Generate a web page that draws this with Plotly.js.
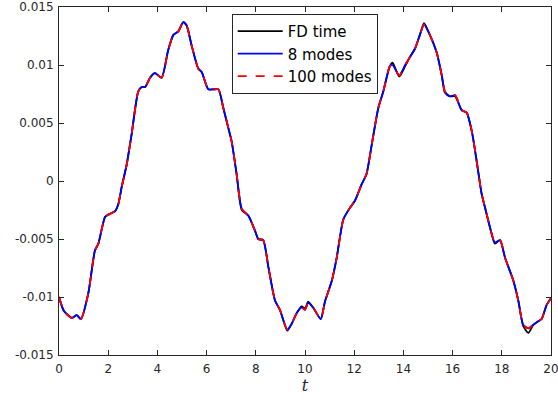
<!DOCTYPE html>
<html>
<head>
<meta charset="utf-8">
<script src="https://cdn.plot.ly/plotly-3.0.1.min.js"></script>
<style>html,body{margin:0;padding:0;background:#fff;}#plot{width:558px;height:403px;}</style>
</head>
<body>
<div id="plot"></div>
<script>
const t = [0, 0.2, 0.52, 0.72, 0.89, 1.19, 1.46, 1.6, 1.87, 2.0, 2.28, 2.41, 2.55, 2.75, 2.95, 3.22, 3.36, 3.5, 3.7, 3.9, 4.17, 4.44, 4.65, 4.85, 5.05, 5.19, 5.39, 5.66, 5.8, 6.07, 6.27, 6.48, 6.68, 6.88, 7.02, 7.22, 7.43, 7.7, 7.97, 8.1, 8.3, 8.51, 8.78, 8.98, 9.28, 9.46, 9.66, 9.86, 10.0, 10.13, 10.36, 10.64, 10.81, 11.09, 11.29, 11.56, 11.83, 12.03, 12.3, 12.5, 12.71, 12.98, 13.18, 13.45, 13.56, 13.83, 14.07, 14.27, 14.47, 14.67, 14.84, 15.01, 15.35, 15.56, 15.69, 15.89, 16.1, 16.37, 16.57, 16.78, 16.98, 17.18, 17.32, 17.52, 17.72, 17.93, 18.13, 18.47, 18.67, 18.87, 19.08, 19.28, 19.48, 19.62, 19.82, 20.0];

const fdTime = [-0.0100, -0.0112, -0.0118, -0.01157, -0.0119, -0.0097, -0.0060, -0.0054, -0.0031, -0.0029, -0.0026, -0.0020, -0.0005, 0.0014, 0.0040, 0.0077, 0.0081, 0.0081, 0.0089, 0.0093, 0.0089, 0.0113, 0.0126, 0.0129, 0.0137, 0.0134, 0.0117, 0.0097, 0.0094, 0.0079, 0.0079, 0.0079, 0.0063, 0.0046, 0.0034, 0.0006, -0.0025, -0.0030, -0.0043, -0.0050, -0.0051, -0.0074, -0.0103, -0.0111, -0.0129, -0.0123, -0.0114, -0.0108, -0.0110, -0.0104, -0.0110, -0.0119, -0.0104, -0.0086, -0.0066, -0.0033, -0.0023, -0.0017, -0.0003, 0.0006, 0.0031, 0.0063, 0.0077, 0.0099, 0.0102, 0.0090, 0.0099, 0.0107, 0.0114, 0.0126, 0.0136, 0.0129, 0.0111, 0.0091, 0.0076, 0.0073, 0.0073, 0.0061, 0.0059, 0.0043, 0.0017, -0.0011, -0.0023, -0.0040, -0.0054, -0.0051, -0.0066, -0.0086, -0.0103, -0.0125, -0.0131, -0.0124, -0.0121, -0.0119, -0.0107, -0.0101];

const modes8 = [-0.0100, -0.0112, -0.0118, -0.01157, -0.0119, -0.0097, -0.0060, -0.0054, -0.0031, -0.0029, -0.0026, -0.0020, -0.0005, 0.0014, 0.0040, 0.0077, 0.0081, 0.0081, 0.0089, 0.0093, 0.0089, 0.0113, 0.0126, 0.0129, 0.0137, 0.0134, 0.0117, 0.0097, 0.0094, 0.0079, 0.0079, 0.0079, 0.0063, 0.0046, 0.0034, 0.0006, -0.0024, -0.0030, -0.0043, -0.0050, -0.0051, -0.0074, -0.0103, -0.0111, -0.0128, -0.0123, -0.0114, -0.0109, -0.0111, -0.0105, -0.0110, -0.0119, -0.0104, -0.0086, -0.0066, -0.0033, -0.0023, -0.0017, -0.0003, 0.0006, 0.0031, 0.0063, 0.0077, 0.0099, 0.0100, 0.0091, 0.0100, 0.0107, 0.0114, 0.0126, 0.0135, 0.0129, 0.0111, 0.0091, 0.0077, 0.0073, 0.0074, 0.0061, 0.0059, 0.0043, 0.0017, -0.0011, -0.0023, -0.0040, -0.0053, -0.0051, -0.0066, -0.0086, -0.0103, -0.0124, -0.0127, -0.0124, -0.0121, -0.0119, -0.0107, -0.0101];

const modes100 = [-0.0100, -0.0112, -0.0118, -0.01157, -0.0119, -0.0097, -0.0060, -0.0054, -0.0031, -0.0029, -0.0026, -0.0020, -0.0005, 0.0014, 0.0040, 0.0077, 0.0081, 0.0081, 0.0089, 0.0093, 0.0089, 0.0113, 0.0126, 0.0129, 0.0137, 0.0134, 0.0117, 0.0097, 0.0094, 0.0079, 0.0079, 0.0079, 0.0063, 0.0046, 0.0034, 0.0006, -0.0024, -0.0030, -0.0043, -0.0050, -0.0051, -0.0074, -0.0103, -0.0111, -0.0128, -0.0123, -0.0114, -0.0109, -0.0111, -0.0105, -0.0110, -0.0119, -0.0104, -0.0086, -0.0066, -0.0033, -0.0023, -0.0017, -0.0003, 0.0006, 0.0031, 0.0063, 0.0077, 0.0099, 0.0100, 0.0091, 0.0100, 0.0107, 0.0114, 0.0126, 0.0135, 0.0129, 0.0111, 0.0091, 0.0077, 0.0073, 0.0074, 0.0061, 0.0059, 0.0043, 0.0017, -0.0011, -0.0023, -0.0040, -0.0053, -0.0051, -0.0066, -0.0086, -0.0103, -0.0124, -0.0127, -0.0124, -0.0121, -0.0119, -0.0107, -0.0101];

const seriesNames = ['FD time', '8 modes', '100 modes'];
const xTicks = [0, 2, 4, 6, 8, 10, 12, 14, 16, 18, 20];
const yTicks = [-0.015, -0.01, -0.005, 0, 0.005, 0.01, 0.015];
const yTickText = ['-0.015', '-0.01', '-0.005', '0', '0.005', '0.01', '0.015'];

const traces = [
  {x: t, y: fdTime, name: seriesNames[0], mode: 'lines', line: {color: '#000000', width: 1.8, shape: 'spline', smoothing: 0.6}},
  {x: t, y: modes8, name: seriesNames[1], mode: 'lines', line: {color: '#0000ff', width: 1.8, shape: 'spline', smoothing: 0.6}},
  {x: t, y: modes100, name: seriesNames[2], mode: 'lines', line: {color: '#ff0000', width: 1.8, dash: 'dash', shape: 'spline', smoothing: 0.6}}
];

const axisCommon = {
  showline: true, linecolor: '#262626', linewidth: 1, mirror: 'ticks',
  ticks: 'inside', ticklen: 5, tickcolor: '#262626', showgrid: false, zeroline: false,
  ticklabeloverflow: 'allow',
  tickfont: {family: 'DejaVu Sans, sans-serif', size: 12, color: '#262626'}
};

const layout = {
  width: 558, height: 403,
  margin: {l: 59, r: 7, t: 7, b: 48},
  paper_bgcolor: '#ffffff', plot_bgcolor: '#ffffff',
  showlegend: true,
  legend: {
    x: 0.351, y: 0.98, xanchor: 'left', yanchor: 'top',
    bgcolor: '#ffffff', bordercolor: '#262626', borderwidth: 1,
    font: {family: 'DejaVu Sans, sans-serif', size: 15, color: '#000000'},
    tracegroupgap: 0, itemwidth: 45
  },
  xaxis: Object.assign({}, axisCommon, {
    range: [0, 20], tickvals: xTicks, ticktext: xTicks.map(String), ticklabelstandoff: 3,
    title: {text: '<i>t</i>', font: {family: 'DejaVu Serif, Liberation Serif, serif', size: 16, color: '#262626'}, standoff: 4}
  }),
  yaxis: Object.assign({}, axisCommon, {
    range: [-0.0150001, 0.0150001], tickvals: yTicks, ticktext: yTickText, ticklabelstandoff: 2
  })
};

Plotly.newPlot('plot', traces, layout, {displayModeBar: false, staticPlot: true});
</script>
</body>
</html>
